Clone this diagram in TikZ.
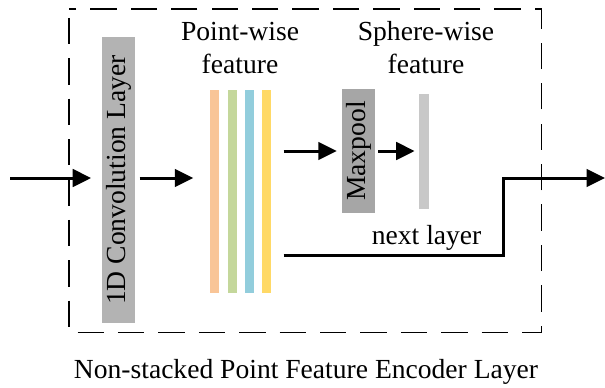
\documentclass[tikz,border=0pt]{standalone}
\usepackage{fontspec}
\setmainfont{Liberation Serif}
\usetikzlibrary{arrows.meta}

\definecolor{convgray}{HTML}{B3B3B3}
\definecolor{poolgray}{HTML}{A6A6A6}
\definecolor{spheregray}{HTML}{C8C8C8}
\definecolor{barorange}{HTML}{F9C597}
\definecolor{bargreen}{HTML}{C4D79B}
\definecolor{barblue}{HTML}{92CDDC}
\definecolor{baryellow}{HTML}{FFD966}

\begin{document}
\begin{tikzpicture}[x=0.02cm, y=-0.02cm,
        every node/.style = {font=\fontsize{15.7}{18.8}\selectfont},
        flow/.style = {black, line width=1.7pt, -{Triangle[length=10.5pt, width=10pt]}},
        block/.style = {rotate=90, inner sep=0pt, minimum height=0.66cm},
        bar/.style = {inner sep=0pt, minimum width=0.18cm, minimum height=4.06cm}]
    \useasboundingbox (0,0) rectangle (605,387);
    \draw[black, line width=1pt, dash pattern=on 15pt off 8pt, dash phase=-5pt] (69,9) rectangle (541.5,332.5);
    % blocks
    \node[block, fill=convgray, minimum width=5.72cm] (conv) at (118.5,180) {1D Convolution Layer};
    \node[block, fill=poolgray, minimum width=2.48cm] (pool) at (358.5,151) {Maxpool};
    \node[bar, fill=spheregray, minimum width=0.2cm, minimum height=2.3cm] (sw) at (424,151.5) {};
    % point-wise feature bars
    \foreach \c [count=\i] in {barorange, bargreen, barblue, baryellow}
        \node[bar, fill=\c] (pw\i) at (197.5+17.3*\i,191.5) {};
    \node[align=center] (pwlabel) at (240,48) {Point-wise\\feature};
    \node[align=center] (swlabel) at (426,48) {Sphere-wise\\feature};
    \coordinate (in) at (10,178);
    \coordinate (out) at (605,178);
    % connections
    \draw[flow, shorten >=6pt] (in) -- (in -| conv.north);
    \draw[flow, shorten <=2.5pt, shorten >=9.5pt] (conv.south |- in) -- (in -| pw1.west);
    \draw[flow, shorten <=6.8pt, shorten >=2.8pt] (pw4.east |- pool) -- (pool.north);
    \draw[flow, shorten <=1.7pt, shorten >=2.3pt] (pool.south) -- (sw.west |- pool);
    \draw[flow, shorten <=6.8pt] (pw4.east |- 0,255) -- (503,255)
        node[above, pos=0.67, inner sep=2pt] (next) {next layer} -- (503,178) -- (out);
    \node (caption) at (306,372) {Non-stacked Point Feature Encoder Layer};
\end{tikzpicture}
\end{document}
